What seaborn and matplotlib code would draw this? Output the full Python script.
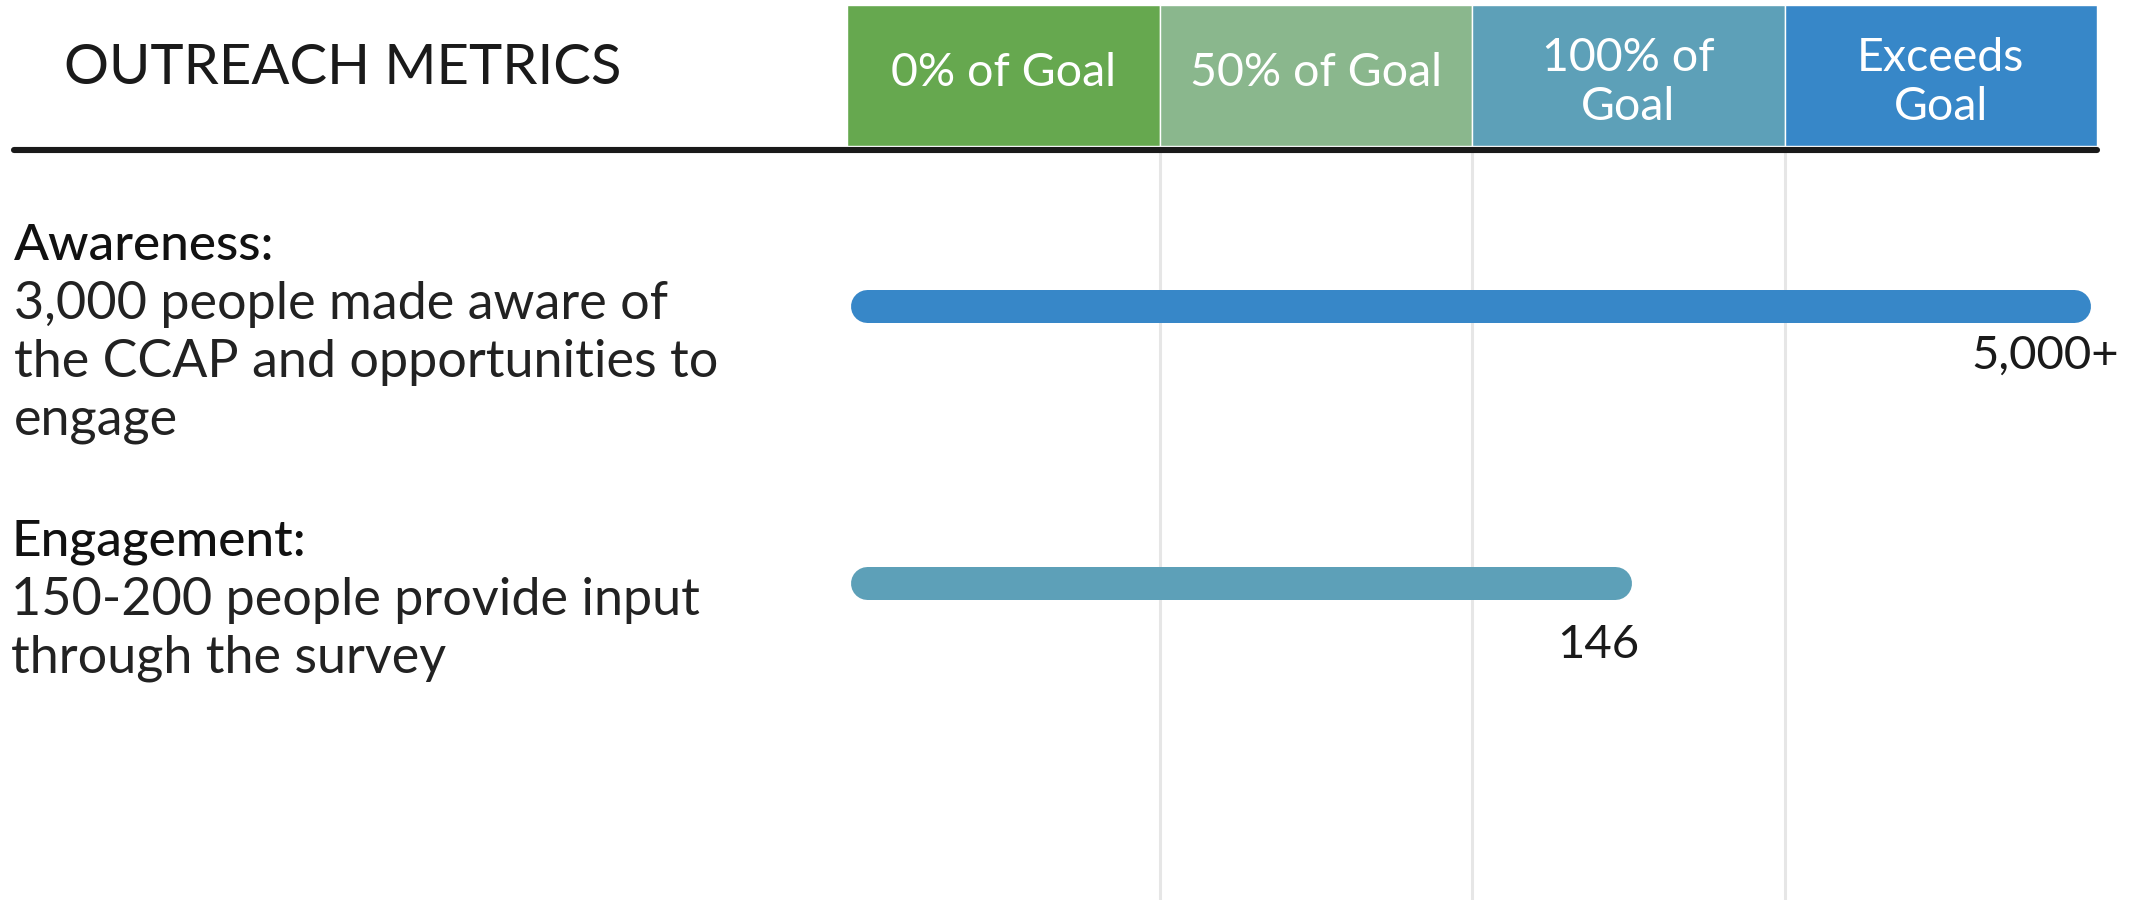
import matplotlib.pyplot as plt
import seaborn as sns
from matplotlib.lines import Line2D


metrics = ["Awareness", "Engagement"]
progress = [1.99, 1.255]         # position on the goal scale (0 .. 2)
counts = ["5,000+", "146"]
headings = ["Awareness:", "Engagement:"]
descriptions = [
    ["3,000 people made aware of", "the CCAP and opportunities to", "engage"],
    ["150-200 people provide input", "through the survey"],
]
bar_colors = ["#3787C8", "#5DA0B8"]

goal_labels = ["0% of Goal", "50% of Goal", "100% of\nGoal", "Exceeds\nGoal"]
goal_steps = [0.5, 0.5, 0.5, 0.5]
goal_colors = ["#66A84F", "#8AB78D", "#5DA0B8", "#3787C8"]

W, H = 2141, 900
sns.set_style("white")
plt.rcParams['font.family'] = ['Lato', 'DejaVu Sans']

fig = plt.figure(figsize=(W / 100, H / 100), dpi=100)

# bars
ax = fig.add_axes([847 / W, 0, 1250 / W, 747 / H])
sns.barplot(x=progress, y=metrics, hue=metrics, palette=bar_colors, orient="h",
            width=0.119, saturation=1, legend=False, ax=ax)
ax.set_xlim(0, 2)
ax.set_ylim(2.144, -0.552)

# swap the square bars for pill shapes (round caps) at the same place
bar_px = 33
cap = bar_px / 2 / 625
for p in list(ax.patches):
    x, w = p.get_x(), p.get_width()
    yc = p.get_y() + p.get_height() / 2
    c = p.get_facecolor()
    p.set_visible(False)
    ax.plot([x + cap + 0.006, x + w - cap], [yc, yc], color=c, lw=bar_px * 0.72,
            solid_capstyle="round", zorder=3)

ax.set_xticks([0.5, 1.0, 1.5])
ax.grid(axis="x", color="#e6e6e6", lw=2.2)
ax.set_axisbelow(True)
ax.set_xticklabels([])
ax.set_yticks([])
ax.set_xlabel("")
ax.set_ylabel("")
ax.tick_params(length=0)
sns.despine(ax=ax, left=True, bottom=True)

label_dx = [28, 8]
label_dy = [-50, -62]
for i, lab in enumerate(counts):
    ax.annotate(lab, (progress[i], i), xytext=(label_dx[i], label_dy[i]), textcoords="offset pixels",
                ha="right", va="center", fontsize=34, color="#1a1a1a", annotation_clip=False)

# goal header
hax = fig.add_axes([847 / W, 1 - 146 / H, 1250 / W, 141 / H])
lefts = [sum(goal_steps[:i]) for i in range(len(goal_steps))]
hax.barh(0, goal_steps, left=lefts, color=goal_colors, height=1, edgecolor="white", lw=1)
hax.set_xlim(0, 2)
hax.set_ylim(-0.5, 0.5)
hax.axis("off")
for l, s, lab in zip(lefts, goal_steps, goal_labels):
    yy = -0.05 if "\n" in lab else 0.02
    hax.text(l + s / 2, yy, lab, ha="center", va="center", color="white",
             fontsize=33.5, linespacing=1.2)

fig.add_artist(Line2D([14 / W, 2097 / W], [1 - 150 / H] * 2, color="#1a1a1a", lw=4.4))

fig.text(64 / W, 1 - 68 / H, "OUTREACH METRICS", fontsize=40.5, va="center", color="#1a1a1a")

# descriptions on the left
starts = [(14, 246), (11, 542)]
for (x0, y0), head, lines in zip(starts, headings, descriptions):
    fig.text(x0 / W, 1 - y0 / H, head, fontsize=37, va="center", color="#111111", fontweight="medium")
    for j, line in enumerate(lines):
        fig.text(x0 / W, 1 - (y0 + 58 * (j + 1)) / H, line, fontsize=37.5, va="center", color="#222222")

fig.savefig("out.png", dpi=100)
